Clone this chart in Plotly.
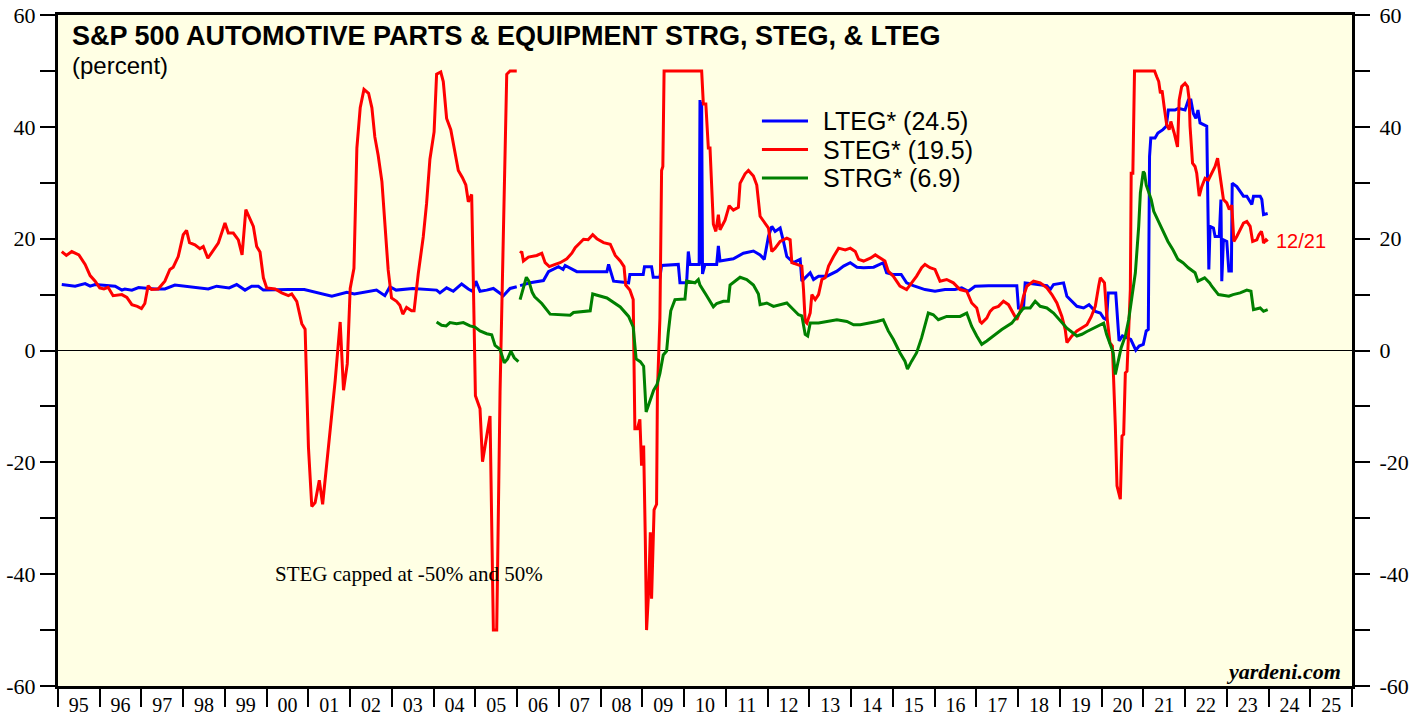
import plotly.graph_objects as go

# ---------------- data (decimal years, percent) ----------------
LTEG_X = [1995.09, 1995.41, 1995.65, 1995.77, 1995.89, 1996.37, 1996.53, 1996.6, 1996.77, 1996.93,
          1997.32, 1997.56, 1997.8, 1998.2, 1998.6, 1998.8, 1999.1, 1999.28, 1999.48, 1999.64,
          1999.8, 1999.92, 2000.2, 2000.52, 2000.9, 2001.16, 2001.56, 2001.92, 2002.1, 2002.63,
          2002.83, 2002.95, 2003.1, 2003.5, 2004.07, 2004.15, 2004.31, 2004.47, 2004.67, 2004.83,
          2004.93, 2005.01, 2005.11, 2005.27, 2005.43, 2005.67, 2005.83, 2005.99, 2006.03,
          2006.07, 2006.31, 2006.63, 2006.75, 2006.99, 2007.1, 2007.15, 2007.43, 2008.15, 2008.19,
          2008.31, 2008.67, 2008.7, 2009.02, 2009.05, 2009.22, 2009.26, 2009.42, 2009.46, 2009.86,
          2009.9, 2010.06, 2010.1, 2010.14, 2010.36, 2010.38, 2010.4, 2010.42, 2010.44, 2010.5,
          2010.78, 2010.82, 2010.86, 2011.18, 2011.42, 2011.66, 2011.82, 2011.92, 2012.02, 2012.1,
          2012.18, 2012.3, 2012.38, 2012.46, 2012.62, 2012.78, 2012.82, 2012.94, 2013.02, 2013.1,
          2013.22, 2013.42, 2013.66, 2013.82, 2013.98, 2014.14, 2014.3, 2014.54, 2014.77, 2014.85,
          2015.0, 2015.2, 2015.33, 2015.49, 2015.65, 2015.77, 2016.01, 2016.25, 2016.49, 2016.65,
          2016.81, 2016.97, 2017.29, 2017.97, 2018.01, 2018.13, 2018.17, 2018.45, 2018.69, 2018.77,
          2018.85, 2019.09, 2019.17, 2019.41, 2019.57, 2019.7, 2019.85, 2019.97, 2020.05, 2020.12,
          2020.16, 2020.34, 2020.37, 2020.42, 2020.5, 2020.7, 2020.82, 2020.9, 2021.0, 2021.07,
          2021.12, 2021.15, 2021.18, 2021.28, 2021.35, 2021.47, 2021.55, 2021.6, 2021.76, 2021.84,
          2022.0, 2022.08, 2022.14, 2022.2, 2022.26, 2022.31, 2022.36, 2022.44, 2022.52, 2022.57,
          2022.6, 2022.68, 2022.72, 2022.82, 2022.86, 2022.88, 2022.92, 2023.0, 2023.05, 2023.11,
          2023.13, 2023.24, 2023.32, 2023.4, 2023.48, 2023.56, 2023.6, 2023.64, 2023.8, 2023.84,
          2023.88, 2023.98]
LTEG_Y = [11.8, 11.5, 11.96, 11.5, 11.8, 11.5, 10.8, 11.0, 10.8, 11.25,
          11.0, 11.0, 11.7, 11.4, 11.0, 11.5, 11.2, 11.8, 10.8, 11.5,
          11.5, 10.8, 10.9, 10.9, 10.9, 10.4, 9.7, 10.4, 10.1, 10.8,
          9.8, 11.4, 10.8, 11.1, 10.8, 10.3, 11.2, 10.6, 11.9, 11.0,
          10.6, 12.4, 10.6, 10.8, 11.1, 9.8, 11.1, 11.4, None,
          11.6, 12.1, 12.5, 14.1, 15.0, 14.5, 15.2, 14.1, 14.1, 15.4,
          12.4, 12.1, 13.6, 13.6, 15.0, 15.0, 13.1, 13.1, 15.2, 15.4,
          12.1, 12.1, 17.7, 15.4, 15.4, 44.8, 15.4, 44.5, 13.7, 15.4,
          15.4, 18.7, 16.0, 16.4, 17.4, 17.8, 17.1, 16.3, 20.4, 22.2,
          21.3, 21.9, 19.5, 16.8, 15.7, 16.3, 12.4, 13.3, 13.9, 12.7,
          13.3, 13.3, 14.2, 15.1, 15.7, 14.9, 14.8, 14.9, 15.7, 13.9,
          13.6, 13.6, 12.1, 11.6, 11.2, 10.9, 10.6, 10.9, 10.9, 11.2,
          10.6, 11.5, 11.6, 11.6, 7.6, 7.6, 12.1, 11.8, 11.6, 10.9,
          11.8, 12.1, 9.7, 7.9, 7.6, 8.2, 7.0, 6.7, 5.8, 5.5,
          10.3, 10.3, 7.3, 1.7, 2.6, 2.0, 0.05, 0.8, 1.1, 3.5,
          3.75, 34.7, 38.0, 38.0, 38.9, 39.5, 40.1, 43.0, 43.0, 43.3,
          43.0, 44.8, 44.8, 42.4, 41.5, 43.0, 40.7, 40.4, 40.1, 14.5,
          22.2, 21.9, 20.4, 20.4, 27.0, 12.4, 19.8, 19.5, 14.2, 14.2,
          29.9, 29.3, 28.5, 27.6, 27.6, 26.7, 26.1, 27.6, 27.6, 27.0,
          24.3, 24.5]

STEG_X = [1995.09, 1995.2, 1995.33, 1995.5, 1995.65, 1995.77, 1995.89, 1996.0, 1996.1, 1996.2,
          1996.32, 1996.53, 1996.65, 1996.77, 1996.9, 1997.0, 1997.08, 1997.16, 1997.24, 1997.4,
          1997.56, 1997.68, 1997.76, 1997.88, 1998.0, 1998.08, 1998.15, 1998.28, 1998.4, 1998.48,
          1998.59, 1998.84, 1999.0, 1999.08, 1999.2, 1999.32, 1999.41, 1999.5, 1999.68, 1999.76,
          1999.84, 1999.92, 2000.0, 2000.2, 2000.36, 2000.52, 2000.6, 2000.72, 2000.84, 2000.92,
          2001.0, 2001.08, 2001.16, 2001.26, 2001.34, 2001.44, 2001.56, 2001.64, 2001.76, 2001.84,
          2001.93, 2002.0, 2002.09, 2002.16, 2002.24, 2002.33, 2002.44, 2002.52, 2002.59, 2002.67,
          2002.76, 2002.83, 2002.91, 2002.99, 2003.11, 2003.19, 2003.26, 2003.35, 2003.47, 2003.53,
          2003.63, 2003.75, 2003.83, 2003.91, 2004.01, 2004.07, 2004.17, 2004.23, 2004.31, 2004.41,
          2004.51, 2004.59, 2004.69, 2004.77, 2004.83, 2004.91, 2004.95, 2005.0, 2005.11, 2005.17,
          2005.27, 2005.35, 2005.43, 2005.51, 2005.59, 2005.67, 2005.75, 2005.83, 2005.99, 2006.03,
          2006.07, 2006.11, 2006.15, 2006.27, 2006.47, 2006.59, 2006.67, 2006.77, 2006.91, 2007.03,
          2007.19, 2007.31, 2007.39, 2007.59, 2007.7, 2007.81, 2007.91, 2008.07, 2008.23, 2008.35,
          2008.47, 2008.56, 2008.6, 2008.7, 2008.78, 2008.82, 2008.88, 2008.94, 2008.98, 2009.03,
          2009.07, 2009.1, 2009.15, 2009.19, 2009.22, 2009.28, 2009.34, 2009.36, 2009.42, 2009.46,
          2009.49, 2009.52, 2010.42, 2010.46, 2010.52, 2010.58, 2010.62, 2010.66, 2010.7, 2010.76,
          2010.82, 2010.86, 2010.98, 2011.08, 2011.18, 2011.3, 2011.34, 2011.46, 2011.54, 2011.66,
          2011.74, 2011.82, 2011.9, 2012.02, 2012.1, 2012.18, 2012.3, 2012.46, 2012.54, 2012.58,
          2012.7, 2012.82, 2012.86, 2012.9, 2012.94, 2013.02, 2013.06, 2013.14, 2013.22, 2013.3,
          2013.38, 2013.46, 2013.58, 2013.7, 2013.86, 2013.98, 2014.1, 2014.18, 2014.3, 2014.46,
          2014.58, 2014.7, 2014.81, 2014.89, 2015.01, 2015.09, 2015.17, 2015.33, 2015.45, 2015.57,
          2015.69, 2015.77, 2015.89, 2016.01, 2016.13, 2016.29, 2016.45, 2016.61, 2016.77, 2016.89,
          2017.01, 2017.09, 2017.13, 2017.25, 2017.33, 2017.41, 2017.53, 2017.65, 2017.77, 2017.89,
          2017.97, 2018.05, 2018.13, 2018.21, 2018.37, 2018.53, 2018.69, 2018.81, 2018.93, 2019.05,
          2019.13, 2019.17, 2019.29, 2019.41, 2019.53, 2019.65, 2019.75, 2019.85, 2019.93, 2019.97,
          2020.07, 2020.12, 2020.2, 2020.26, 2020.33, 2020.37, 2020.45, 2020.49, 2020.53, 2020.57,
          2020.61, 2020.65, 2020.69, 2020.71, 2020.75, 2020.79, 2021.27, 2021.32, 2021.37, 2021.41,
          2021.45, 2021.5, 2021.56, 2021.62, 2021.66, 2021.74, 2021.82, 2021.86, 2021.92, 2022.0,
          2022.06, 2022.1, 2022.12, 2022.18, 2022.24, 2022.28, 2022.34, 2022.4, 2022.48, 2022.56,
          2022.64, 2022.72, 2022.78, 2022.84, 2022.92, 2023.0, 2023.06, 2023.12, 2023.17, 2023.24,
          2023.32, 2023.4, 2023.48, 2023.56, 2023.62, 2023.72, 2023.77, 2023.83, 2023.86, 2023.88,
          2023.94, 2023.98]
STEG_Y = [17.7, 17.0, 17.7, 17.1, 15.4, 13.4, 12.4, 11.2, 11.0, 11.3,
          9.8, 10.0, 9.5, 8.2, 7.9, 7.5, 8.4, 11.6, 10.9, 11.0,
          12.4, 14.5, 14.9, 16.8, 20.7, 21.5, 19.3, 18.9, 18.2, 18.6,
          16.5, 19.2, 22.8, 21.0, 21.0, 19.8, 17.1, 25.2, 22.2, 18.6,
          17.6, 13.0, 11.2, 11.0, 10.3, 9.8, 10.1, 8.8, 4.8, 3.8,
          -17.3, -27.9, -27.2, -23.2, -27.5, -19.9, -12.0, -5.4, 5.1, -7.1,
          -2.4, 11.1, 14.7, 36.2, 43.4, 46.7, 46.0, 43.4, 38.2, 34.9,
          30.2, 22.3, 14.4, 9.4, 8.8, 8.1, 6.5, 7.7, 7.1, 7.1,
          13.7, 20.3, 26.3, 34.2, 39.1, 49.4, 49.8, 48.1, 41.5, 39.5,
          35.5, 32.2, 30.9, 29.6, 26.6, 27.9, 12.4, -8.1, -10.4, -19.9,
          -15.3, -11.7, -50.0, -50.0, -7.4, 22.3, 49.4, 50.0, 50.0, None,
          17.4, 17.7, 16.0, 16.7, 17.0, 17.4, 15.7, 15.0, 15.4, 15.7,
          16.4, 17.4, 18.4, 19.9, 19.8, 20.7, 20.0, 19.3, 19.0, 17.0,
          16.0, 15.0, 11.7, 10.8, 9.1, -14.0, -14.0, -12.3, -20.6, -17.0,
          -33.8, -50.0, -43.0, -32.5, -44.4, -28.5, -27.5, -7.4, 5.8, 32.2,
          32.9, 50.0, 50.0, 44.1, 44.1, 36.2, 36.2, 28.9, 22.6, 21.3,
          24.3, 21.6, 23.3, 25.9, 25.1, 25.6, 29.9, 31.6, 32.2, 31.2,
          29.6, 24.0, 23.1, 21.9, 17.7, 18.3, 19.5, 20.1, 19.8, 15.7,
          15.4, 15.1, 10.9, 5.2, 4.9, 6.7, 10.0, 9.1, 10.0, 12.7,
          13.0, 15.1, 16.8, 18.3, 18.0, 18.3, 17.7, 16.3, 16.0, 16.5,
          17.1, 16.5, 16.0, 14.2, 13.3, 12.4, 11.5, 10.9, 12.1, 13.3,
          14.8, 15.4, 14.8, 14.5, 12.4, 12.7, 12.1, 10.9, 10.6, 8.5,
          7.6, 5.2, 4.9, 5.8, 7.0, 7.6, 7.9, 8.8, 8.2, 6.7,
          5.5, 7.0, 9.7, 11.5, 12.4, 12.1, 11.2, 10.0, 8.5, 6.1,
          3.75, 1.4, 2.6, 3.5, 4.0, 4.6, 6.0, 7.9, 11.5, 13.0,
          12.1, 6.7, 1.4, 0.8, -13.5, -24.2, -26.6, -15.3, -15.0, -4.0,
          -3.7, 5.5, 10.9, 31.7, 31.7, 50.0, 50.0, 49.0, 48.1, 46.0,
          46.5, 43.6, 40.4, 39.5, 40.95, 38.9, 36.4, 44.8, 47.2, 47.8,
          47.2, 44.8, 40.1, 33.5, 32.9, 31.7, 27.6, 29.3, 30.8, 30.5,
          31.7, 32.9, 34.4, 31.1, 27.0, 26.4, 25.2, 26.0, 19.5, 20.4,
          21.6, 22.8, 23.1, 22.2, 19.5, 19.8, 20.7, 21.3, 20.4, 19.2,
          19.8, 19.5]

STRG_X = [2004.07, 2004.19, 2004.3, 2004.39, 2004.55, 2004.71, 2004.87, 2004.99, 2005.11, 2005.27,
          2005.39, 2005.47, 2005.59, 2005.69, 2005.77, 2005.85, 2005.93, 2006.03, 2006.05,
          2006.07, 2006.12, 2006.18, 2006.22, 2006.28, 2006.36, 2006.42, 2006.59, 2006.79, 2007.27,
          2007.35, 2007.75, 2007.81, 2008.15, 2008.47, 2008.67, 2008.78, 2008.85, 2008.95, 2009.03,
          2009.09, 2009.19, 2009.27, 2009.35, 2009.42, 2009.5, 2009.58, 2009.62, 2009.68, 2009.78,
          2010.02, 2010.06, 2010.26, 2010.34, 2010.38, 2010.54, 2010.7, 2010.78, 2010.94, 2011.06,
          2011.1, 2011.34, 2011.5, 2011.66, 2011.78, 2011.82, 2011.98, 2012.14, 2012.3, 2012.46,
          2012.58, 2012.74, 2012.82, 2012.9, 2012.96, 2013.02, 2013.22, 2013.42, 2013.66, 2013.9,
          2014.06, 2014.22, 2014.46, 2014.62, 2014.77, 2014.89, 2015.01, 2015.17, 2015.29, 2015.35,
          2015.45, 2015.57, 2015.69, 2015.77, 2015.85, 2015.97, 2016.09, 2016.29, 2016.61, 2016.77,
          2016.89, 2017.01, 2017.13, 2017.25, 2017.41, 2017.61, 2017.85, 2017.97, 2018.13, 2018.29,
          2018.41, 2018.53, 2018.69, 2018.85, 2019.0, 2019.17, 2019.41, 2019.53, 2019.65, 2019.8,
          2019.97, 2020.05, 2020.12, 2020.2, 2020.28, 2020.33, 2020.39, 2020.47, 2020.57, 2020.65,
          2020.73, 2020.81, 2020.89, 2020.93, 2021.0, 2021.03, 2021.07, 2021.15, 2021.19, 2021.25,
          2021.35, 2021.47, 2021.59, 2021.71, 2021.83, 2021.95, 2022.08, 2022.24, 2022.31, 2022.47,
          2022.59, 2022.64, 2022.8, 2023.05, 2023.15, 2023.32, 2023.48, 2023.58, 2023.64, 2023.8,
          2023.88, 2023.98]
STRG_Y = [5.1, 4.5, 4.4, 5.0, 4.8, 5.0, 4.4, 4.2, 3.5, 3.0,
          2.8, 0.9, 0.2, -2.2, -1.5, -0.1, -1.3, -2.0, None,
          9.1, 10.4, 11.7, 13.1, 12.4, 10.4, 9.6, 8.4, 6.5, 6.3,
          6.8, 7.1, 10.1, 9.4, 7.8, 6.1, 4.2, -1.5, -2.0, -2.8,
          -11.0, -8.7, -7.1, -6.1, -4.1, -0.8, -0.1, 3.2, 7.1, 9.1,
          9.2, 12.4, 12.1, 12.7, 11.7, 9.8, 7.8, 8.4, 8.8, 8.8,
          11.7, 13.1, 12.7, 11.7, 10.1, 8.2, 8.5, 7.9, 8.2, 8.5,
          7.6, 6.4, 6.2, 2.9, 2.6, 4.9, 4.9, 5.2, 5.5, 5.2,
          4.6, 4.6, 4.9, 5.2, 5.5, 3.5, 2.0, -0.4, -1.9, -3.3,
          -1.9, -0.4, 2.3, 4.3, 6.7, 6.4, 5.5, 6.1, 6.1, 6.7,
          4.3, 2.6, 1.1, 1.7, 2.6, 3.75, 4.9, 6.1, 7.6, 7.6,
          8.8, 7.9, 7.6, 6.7, 5.5, 4.0, 2.6, 2.9, 3.4, 4.0,
          4.6, 4.9, 2.9, 1.4, -0.4, -4.3, -2.2, 0.5, 2.6, 5.5,
          9.7, 13.9, 22.2, 28.2, 32.0, 31.7, 29.6, 27.6, 27.0, 24.9,
          23.4, 21.6, 19.5, 18.0, 16.3, 15.7, 14.8, 13.9, 12.4, 13.0,
          12.1, 11.5, 10.0, 9.7, 10.0, 10.3, 10.8, 10.6, 7.3, 7.6,
          7.0, 7.3]

SERIES_NAMES = ["LTEG* (24.5)", "STEG* (19.5)", "STRG* (6.9)"]
SERIES_COLORS = ["#0000FF", "#FF0000", "#008000"]
YEAR_TICKS = list(range(1995, 2027))
YEAR_LABELS = ["95", "96", "97", "98", "99", "00", "01", "02", "03", "04", "05", "06", "07",
               "08", "09", "10", "11", "12", "13", "14", "15", "16", "17", "18", "19", "20",
               "21", "22", "23", "24", "25"]
Y_TICKS = list(range(-60, 61, 10))
Y_LABELS = [str(v) if v % 20 == 0 else "" for v in Y_TICKS]

SERIF = "Liberation Serif, Times New Roman, serif"
SANS = "Liberation Sans, Arial, sans-serif"

fig = go.Figure()
for name, color, xs, ys in zip(SERIES_NAMES, SERIES_COLORS,
                               [LTEG_X, STEG_X, STRG_X], [LTEG_Y, STEG_Y, STRG_Y]):
    fig.add_trace(go.Scatter(x=xs, y=ys, mode="lines", name=name, showlegend=False,
                             line=dict(color=color, width=3), connectgaps=False))

# helper trace so that the secondary (label-only) axes are drawn
fig.add_trace(go.Scatter(x=[None], y=[None], xaxis="x2", yaxis="y2", showlegend=False,
                         hoverinfo="skip"))

X_RANGE = [1995, 2026]
Y_RANGE = [-60, 60]

fig.update_layout(
    width=1419, height=717,
    margin=dict(l=58, r=67, t=15, b=31, autoexpand=False),
    paper_bgcolor="white",
    plot_bgcolor="#FFFFE4",
    showlegend=False,
    xaxis=dict(range=X_RANGE, tickvals=YEAR_TICKS, ticktext=[""] * len(YEAR_TICKS),
               ticks="outside", ticklen=18, tickwidth=2, tickcolor="black",
               showline=True, linewidth=3, linecolor="black", mirror=True,
               showgrid=False, zeroline=False, automargin=False),
    xaxis2=dict(range=X_RANGE, overlaying="x", side="bottom",
                tickvals=[y + 0.5 for y in YEAR_TICKS[:-1]], ticktext=YEAR_LABELS,
                ticks="outside", ticklen=1, tickcolor="rgba(0,0,0,0)",
                tickfont=dict(family=SERIF, size=20, color="black"),
                ticklabeloverflow="allow",
                showline=False, showgrid=False, zeroline=False, automargin=False),
    yaxis=dict(range=Y_RANGE, tickvals=Y_TICKS, ticktext=Y_LABELS,
               ticks="outside", ticklen=15, tickwidth=1.5, tickcolor="black",
               tickfont=dict(family=SERIF, size=22, color="black"),
               ticklabeloverflow="allow",
               showline=True, linewidth=3, linecolor="black", mirror="ticks",
               showgrid=False, zeroline=True, zerolinecolor="black", zerolinewidth=1,
               automargin=False),
    yaxis2=dict(range=Y_RANGE, overlaying="y", side="right", tickvals=Y_TICKS,
                ticktext=Y_LABELS, ticks="outside", ticklen=22,
                tickcolor="rgba(0,0,0,0)", tickfont=dict(family=SERIF, size=22, color="black"),
                ticklabeloverflow="allow",
                showline=False, showgrid=False, zeroline=False, automargin=False),
)

# legend drawn in paper coordinates (line sample + label)
LEG_ROWS_Y = [0.842, 0.7995, 0.757]
for name, color, ly in zip(SERIES_NAMES, SERIES_COLORS, LEG_ROWS_Y):
    fig.add_shape(type="line", xref="paper", yref="paper", x0=0.544, x1=0.5796, y0=ly, y1=ly,
                  line=dict(color=color, width=3))
    fig.add_annotation(xref="paper", yref="paper", x=0.5895, y=ly, xanchor="left",
                       yanchor="middle", text=name, showarrow=False,
                       font=dict(family=SANS, size=25, color="black"))

fig.add_annotation(xref="paper", yref="paper", x=0.0095, y=0.994, xanchor="left", yanchor="top",
                   text="<b>S&P 500 AUTOMOTIVE PARTS & EQUIPMENT STRG, STEG, & LTEG</b>",
                   showarrow=False, font=dict(family=SANS, size=27, color="black"))
fig.add_annotation(xref="paper", yref="paper", x=0.0095, y=0.948, xanchor="left", yanchor="top",
                   text="(percent)", showarrow=False,
                   font=dict(family=SANS, size=24, color="black"))
fig.add_annotation(xref="paper", yref="paper", x=0.166, y=0.167, xanchor="left", yanchor="middle",
                   text="STEG capped at -50% and 50%", showarrow=False,
                   font=dict(family=SERIF, size=21, color="black"))
fig.add_annotation(xref="paper", yref="paper", x=0.993, y=0.022, xanchor="right", yanchor="middle",
                   text="<b><i>yardeni.com</i></b>", showarrow=False,
                   font=dict(family=SERIF, size=22, color="black"))
fig.add_annotation(xref="paper", yref="y", x=0.94, y=STEG_Y[-1], xanchor="left", yanchor="middle",
                   text="12/21", showarrow=False,
                   font=dict(family=SANS, size=20, color="#FF0000"))

# remove the browser's default 8px body margin so the figure sits at the page origin
fig.write_html("out.html", config={"displayModeBar": False},
               post_script="document.body.style.margin='0';document.body.style.padding='0';")
